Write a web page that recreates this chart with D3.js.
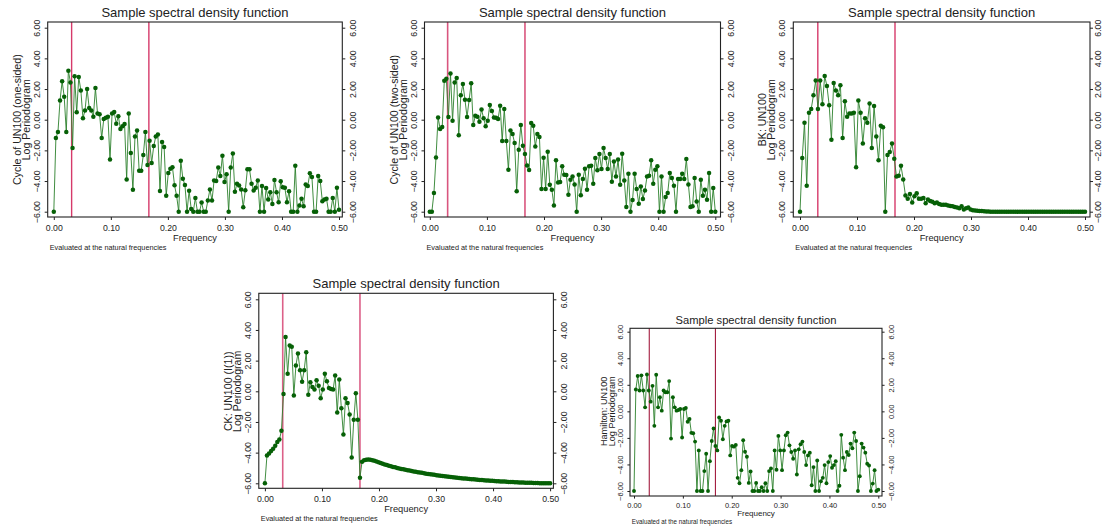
<!DOCTYPE html>
<html>
<head>
<meta charset="utf-8">
<script src="https://cdn.jsdelivr.net/npm/d3@7"></script>
<style>
  body { margin: 0; background: #fff; }
  text { font-family: "Liberation Sans", Arial, sans-serif; fill: #222; }
</style>
</head>
<body>
<div id="chart"></div>
<script>
// log periodogram values (natural frequencies 0 .. 0.5)
const cycleOneSided = [
  -6.00, -1.20, -0.80, 1.26, 2.50, 1.50, -0.80, 3.20, 2.43, -1.85,
  2.83, 0.48, 2.78, 1.90, 0.10, 0.60, 2.00, 0.76, 0.60, 0.20,
  2.06, 0.40, 0.35, -1.20, 0.04, 0.13, 0.20, -2.60, 0.40, 0.50,
  -0.26, 0.22, -0.60, -0.43, -0.28, -3.90, 0.41, -2.17, -4.57, -1.09,
  -0.70, -3.33, -3.33, -2.30, -0.80, -2.96, -1.37, -2.83, -1.72, -1.09,
  -0.96, -4.65, -1.46, -1.78, -4.96, -3.48, -3.20, -3.10, -4.28, -4.96,
  -6.00, -2.67, -3.85, -4.26, -6.00, -4.63, -5.83, -6.00,
  -5.10, -6.00, -6.00, -5.40, -6.00, -6.00, -5.27, -4.55, -5.27, -3.96,
  -4.00, -3.12, -3.67, -2.35, -4.07, -3.56, -6.00, -3.12, -2.20, -4.70,
  -4.18, -4.29, -4.55, -5.71, -4.60, -3.23, -3.23, -4.18, -4.62, -4.44,
  -3.96, -6.00, -4.33, -6.00, -4.46, -5.20, -4.73, -5.50, -3.93, -4.73,
  -5.38, -4.02, -4.40, -4.44, -5.38, -4.66, -6.00, -6.00, -3.00, -6.00,
  -5.60, -5.16, -5.65, -4.22, -4.33, -3.50, -3.74, -6.00, -6.00, -3.67,
  -4.00, -5.32, -5.20, -5.16, -6.00, -6.00, -5.10, -6.00, -4.44, -5.87
];

const cycleTwoSided = [
  -6.00, -6.00, -4.78, -2.46, 0.15, -0.60, -0.48, 2.54, 2.67, 0.17,
  3.02, -0.07, 2.43, 2.72, -1.02, 1.60, 2.33, 1.30, 0.17, 1.28,
  2.37, -0.35, 0.26, 0.20, -0.13, 0.67, 0.10, -0.43, -0.07, 0.96,
  0.57, 0.15, 0.13, 0.04, 0.91, -1.39, 0.70, -1.39, -3.26, -0.70,
  -0.93, -1.52, -4.67, -1.96, -0.35, -1.70, -2.24, -2.98, -3.28, -0.22,
  -0.39, -1.74, -0.93, -1.13, -4.52, -2.48, -4.52, -2.09, -4.24, -4.57,
  -5.59, -2.65, -4.09, -4.07, -3.04, -3.59, -3.60, -4.89, -3.91, -3.70,
  -4.22, -6.00,
  -3.59, -4.93, -3.87, -3.20, -4.57, -3.04, -3.00, -4.17, -2.50, -3.30,
  -2.24, -3.22, -1.85, -2.50, -3.22, -2.24, -4.04, -2.72, -3.70, -2.60,
  -4.24, -2.22, -3.96, -5.70, -3.52, -6.00, -5.24, -3.52, -4.52, -5.48,
  -4.35, -5.17, -4.61, -3.70, -3.65, -2.65, -4.17, -3.26, -3.04, -6.00,
  -3.70, -6.00, -5.04, -4.78, -3.48, -3.80, -4.30, -6.00, -3.87, -3.87,
  -3.52, -3.87, -2.57, -4.22, -5.70, -5.65, -3.80, -5.33, -6.00, -3.91,
  -4.96, -4.57, -5.22, -3.48, -6.00, -4.46, -6.00
];

const bkUN100 = [
  -6.00, -2.50, -0.20, -4.30, 0.45, 0.70, 1.60, 2.55, 0.70, 2.55,
  1.00, 2.85, 2.20, 0.95, -1.30, 2.40, 1.90, 1.60, 2.25, -1.20,
  1.20, 0.20, 0.40, 0.40, 0.45, -3.10, 1.25, 0.45, -1.55, 0.10,
  -0.20, 1.05, -1.85, 0.90, -1.10, -2.65, -0.40, -0.50, -6.00, -2.30,
  -2.10, -1.55, -2.55, -3.70, -3.65, -3.00, -3.90, -4.95, -5.15, -4.85,
  -5.40, -5.00, -4.80, -5.15, -5.15, -5.10, -5.45, -5.20, -5.30, -5.35,
  -5.45, -5.40, -5.50, -5.55, -5.55, -5.55, -5.60, -5.63, -5.65, -5.70,
  -5.72, -5.78, -5.65, -5.85, -5.78, -5.72, -5.85, -5.90, -5.92, -5.94,
  -5.95, -5.96, -5.97, -5.98, -5.98, -6.00, -6.00, -6.00, -6.00, -6.00,
  -6.00, -6.00, -6.00, -6.00, -6.00, -6.00, -6.00, -6.00, -6.00, -6.00,
  -6.00, -6.00, -6.00, -6.00, -6.00, -6.00, -6.00, -6.00, -6.00, -6.00,
  -6.00, -6.00, -6.00, -6.00, -6.00, -6.00, -6.00, -6.00, -6.00, -6.00,
  -6.00, -6.00, -6.00, -6.00, -6.00, -6.00, -6.00, -6.00
];

const ckUN100 = [
  -6.00, -4.19, -4.05, -3.90, -3.75, -3.55, -3.30, -3.15, -2.58, -0.17,
  3.54, 1.14, 2.99, 2.90, -0.28, 1.68, 2.47, 1.38, 0.63, 1.38,
  2.55, -0.22, 0.59, 0.28, 0.11, 0.72, 0.37, -0.46, 0.11, 1.14,
  0.66, 0.22, 0.15, 0.11, 1.03, -1.38, 0.77, -1.11, -2.82, -0.46,
  -0.76, -1.51, -4.32, -1.86, -0.13, -1.86, -5.63,
  -4.59, -4.50, -4.46, -4.45, -4.46, -4.49, -4.53, -4.58, -4.63, -4.68,
  -4.73, -4.77, -4.81, -4.85, -4.89, -4.93, -4.96, -5.00, -5.03, -5.06,
  -5.09, -5.12, -5.15, -5.17, -5.20, -5.23, -5.25, -5.28, -5.30, -5.32,
  -5.35, -5.37, -5.39, -5.41, -5.43, -5.45, -5.47, -5.49, -5.51, -5.52,
  -5.54, -5.56, -5.57, -5.59, -5.61, -5.62, -5.64, -5.65, -5.67, -5.68,
  -5.69, -5.71, -5.72, -5.73, -5.74, -5.76, -5.77, -5.78, -5.79, -5.80,
  -5.81, -5.82, -5.83, -5.84, -5.85, -5.86, -5.87, -5.88, -5.88, -5.89,
  -5.90, -5.91, -5.91, -5.92, -5.93, -5.93, -5.94, -5.95, -5.95, -5.96,
  -5.96, -5.97, -5.97, -5.98, -5.98, -5.98, -5.99, -5.99, -5.99, -6.00,
  -6.00, -6.00
];

const hamiltonUN100 = [
  -6.00, 1.65, 2.66, 1.57, 2.71, 1.57, 0.30, 2.78, 1.57, 0.73,
  1.92, -1.09, 2.76, 0.30, 1.06, 0.05, 1.57, 1.44, 1.44, 2.28,
  -2.05, 1.06, 0.30, 0.05, 0.10, 0.18, -1.97, 0.18, 0.25, -0.78,
  -0.58, -1.62, -1.65, -2.28, -6.00, -2.94, -6.00, -6.00, -4.50, -3.19,
  -6.00, -3.75, -2.23, -1.29, -2.61, -2.94, -0.46, -0.71, -2.10, -1.09,
  -0.76, -0.71, -3.32, -2.61, -2.66, -2.53, -5.01, -5.42, -4.43, -2.18,
  -3.04, -3.42, -5.39, -4.53, -6.00, -6.00,
  -5.39, -6.00, -6.00, -5.72, -6.00, -5.42, -6.00, -4.50, -4.30, -6.00,
  -2.94, -4.40, -1.85, -2.94, -4.43, -2.94, -1.80, -1.60, -2.56, -3.06,
  -3.57, -2.94, -4.76, -2.86, -2.48, -2.28, -3.06, -4.05, -3.32, -3.11,
  -5.57, -4.20, -6.00, -3.70, -6.00, -5.27, -5.01, -4.05, -5.42, -3.82,
  -3.37, -4.25, -4.05, -3.75, -6.00, -5.60, -1.77, -3.49, -4.43, -3.06,
  -3.29, -2.43, -2.78, -1.60, -2.23, -6.00, -4.89, -2.43, -2.73, -3.11,
  -3.95, -4.08, -6.00, -5.44, -4.43, -6.00, -5.90
];

const xTicks = [0, 0.1, 0.2, 0.3, 0.4, 0.5];
const yTicks = [-6, -4, -2, 0, 2, 4, 6];
const bandFreqs = [1 / 32, 1 / 6];   // 32 and 6 quarter cycles
const seriesLabels = ["Cycle of UN100 (one-sided)", "Cycle of UN100 (two-sided)",
  "BK: UN100", "CK: UN100 (I(1))", "Hamilton: UN100"];
const titleText = "Sample spectral density function";
const yTitleText = "Log Periodogram";
const xTitleText = "Frequency";
const noteText = "Evaluated at the natural frequencies";

const svg = d3.select("#chart").append("svg")
    .attr("width", 1105)
    .attr("height", 531)
    .style("display", "block");

// frame boxes of the five graphs (combined figure layout)
const panels = [
  {values: cycleOneSided, label: seriesLabels[0], L: 47.7, R: 342.3, T: 22, B: 217,
   x0: 53.8, x1: 339, y6: 27.7, ym6: 211.7, s: 1, rOff: 13.7, band: "#d63a6a", bandW: 1.4},
  {values: cycleTwoSided, label: seriesLabels[1], L: 424.5, R: 720.5, T: 22, B: 217,
   x0: 429.8, x1: 715.3, y6: 27.7, ym6: 211.7, s: 1, rOff: 13.7, band: "#d9557e", bandW: 1.6},
  {values: bkUN100, label: seriesLabels[2], L: 793.3, R: 1090, T: 22, B: 217,
   x0: 800, x1: 1085, y6: 27.7, ym6: 211.7, s: 1, rOff: 11, band: "#d63a6a", bandW: 1.4},
  {values: ckUN100, label: seriesLabels[3], L: 258.8, R: 553.4, T: 293.3, B: 488.3,
   x0: 264.9, x1: 550.1, y6: 299.3, ym6: 483.3, s: 1, rOff: 13.7, band: "#dc6088", bandW: 1.6},
  {values: hamiltonUN100, label: seriesLabels[4], L: 630, R: 882, T: 328.3, B: 496,
   x0: 634, x1: 878.3, y6: 331.7, ym6: 491, s: 0.86, rOff: 13.7, band: "#a31b3f", bandW: 1.1}
];

function drawPanel(p) {
  const g = svg.append("g");
  const s = p.s;
  const x = d3.scaleLinear().domain([0, 0.5]).range([p.x0, p.x1]);
  const y = d3.scaleLinear().domain([-6, 6]).range([p.ym6, p.y6]);
  const midX = (p.L + p.R) / 2;
  const midY = (p.y6 + p.ym6) / 2;

  // titel
  g.append("text")
      .attr("x", midX).attr("y", p.T - 5.5 * s)
      .attr("text-anchor", "middle")
      .attr("font-size", 13 * s)
      .text(titleText);

  // band markers
  g.selectAll("line.band")
    .data(bandFreqs)
    .join("line")
      .attr("class", "band")
      .attr("x1", d => x(d)).attr("x2", d => x(d))
      .attr("y1", p.T).attr("y2", p.B)
      .attr("stroke", p.band)
      .attr("stroke-width", p.bandW);

  // periodogram
  const m = p.values.length;
  const pts = p.values.map((v, i) => ({f: 0.5 * i / (m - 1), v: v}));
  g.append("path")
      .datum(pts)
      .attr("d", d3.line().x(d => x(d.f)).y(d => y(d.v)))
      .attr("fill", "none")
      .attr("stroke", "#2b802b")
      .attr("stroke-width", 0.9);
  g.selectAll("circle")
    .data(pts)
    .join("circle")
      .attr("cx", d => x(d.f))
      .attr("cy", d => y(d.v))
      .attr("r", 2.25 * s)
      .attr("fill", "#066006");

  // frame
  g.append("rect")
      .attr("x", p.L).attr("y", p.T)
      .attr("width", p.R - p.L).attr("height", p.B - p.T)
      .attr("fill", "none")
      .attr("stroke", "#222")
      .attr("stroke-width", 1.1);

  const fmt = d3.format(".2f");

  // x axis
  const xa = g.append("g")
      .attr("transform", `translate(0,${p.B})`)
      .call(d3.axisBottom(x).tickValues(xTicks).tickSize(3 * s).tickFormat(fmt));
  xa.select(".domain").remove();
  xa.selectAll("text")
      .attr("y", 13.7 * s).attr("dy", null)
      .attr("font-size", 8.7 * s);

  // y axis left
  const ya = g.append("g")
      .attr("transform", `translate(${p.L},0)`)
      .call(d3.axisLeft(y).tickValues(yTicks).tickSize(3 * s).tickFormat(fmt));
  ya.select(".domain").remove();
  ya.selectAll("text")
      .attr("x", null).attr("dy", null)
      .attr("text-anchor", "middle")
      .attr("transform", `translate(${-8 * s},0) rotate(-90)`)
      .attr("font-size", 8.7 * s);

  // y axis right
  const yr = g.append("g")
      .attr("transform", `translate(${p.R},0)`)
      .call(d3.axisRight(y).tickValues(yTicks).tickSize(3 * s).tickFormat(fmt));
  yr.select(".domain").remove();
  yr.selectAll("text")
      .attr("x", null).attr("dy", null)
      .attr("text-anchor", "middle")
      .attr("transform", `translate(${p.rOff * s},0) rotate(-90)`)
      .attr("font-size", 8.7 * s);

  g.selectAll(".tick line").attr("stroke", "#222");
  g.selectAll(".tick text").attr("fill", "#222").attr("font-family", "Liberation Sans, Arial, sans-serif");

  // y title (two lines)
  [p.label, yTitleText].forEach((t, i) => {
    g.append("text")
        .attr("transform", `translate(${p.L - (27 - 9 * i) * s},${midY}) rotate(-90)`)
        .attr("text-anchor", "middle")
        .attr("font-size", 10.6 * s)
        .text(t);
  });

  // x title
  g.append("text")
      .attr("x", midX).attr("y", p.B + 23.5 * s)
      .attr("text-anchor", "middle")
      .attr("font-size", 9.3 * s)
      .text(xTitleText);

  // note
  g.append("text")
      .attr("x", p.L + 2 * s).attr("y", p.B + 33 * s)
      .attr("font-size", 7.3 * s)
      .attr("fill", "#333")
      .text(noteText);
}

panels.forEach(drawPanel);
</script>
</body>
</html>
